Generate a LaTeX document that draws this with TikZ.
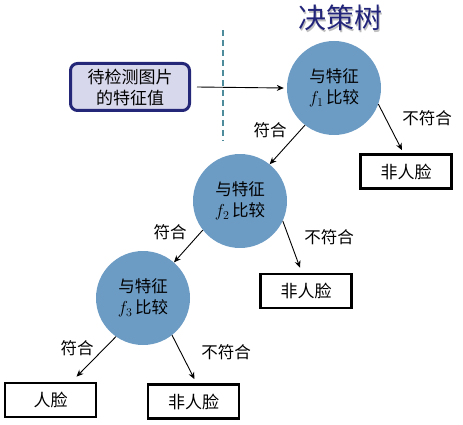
\documentclass[tikz,border=0pt]{standalone}
\usepackage{fontspec}
\newfontfamily\cjk{Noto Sans CJK SC}
\usetikzlibrary{arrows.meta}
\definecolor{circblue}{RGB}{108,155,196}
\definecolor{navy}{RGB}{36,38,120}
\definecolor{lav}{RGB}{216,216,236}
\definecolor{teal}{RGB}{78,140,156}
\definecolor{titleblue}{RGB}{34,36,122}
\begin{document}
\begin{tikzpicture}[x=1pt,y=-1pt,
  dec/.style={circle, fill=circblue, minimum size=94pt, inner sep=0pt, align=center,
    font=\cjk\fontsize{16.5}{21}\selectfont},
  leaf/.style={draw, line width=2.6pt, minimum width=91pt, minimum height=34pt, inner sep=0pt,
    font=\cjk\fontsize{17}{18}\selectfont},
  lbl/.style={font=\cjk\fontsize{16.5}{18}\selectfont, inner sep=0pt},
  arr/.style={-{Stealth[length=7pt,width=6pt]}, line width=0.9pt}]
\useasboundingbox (0,0) rectangle (463,425);
% title
\node[font=\cjk\fontsize{28}{30}\selectfont, text=black!25, inner sep=0pt] at (341.5,19.5) {决策树};
\node[font=\cjk\fontsize{28}{30}\selectfont, text=titleblue, inner sep=0pt] (title) at (340,18) {决策树};
% dashed line
\coordinate (dtop) at (223,30);
\coordinate (dbot) at (223,141);
\draw[teal, line width=2.6pt, dash pattern=on 6pt off 4pt] (dtop) -- (dbot);
% input
\node[draw=navy, line width=3pt, fill=lav, rounded corners=7pt, minimum width=119pt, minimum height=47pt,
  inner sep=0pt, align=center, font=\cjk\fontsize{17}{21}\selectfont] (in) at (130,87) {待检测图片\\的特征值};
% decision nodes
\node[dec] (c1) at (334,88) {与特征\\$f_1$\,比较};
\node[dec] (c2) at (240,201) {与特征\\$f_2$\,比较};
\node[dec] (c3) at (143,298) {与特征\\$f_3$\,比较};
% leaves
\node[leaf] (b1) at (406,171.5) {非人脸};
\node[leaf] (b2) at (306,291) {非人脸};
\node[leaf] (b3) at (50.5,400) {人脸};
\node[leaf] (b4) at (193.5,401.5) {非人脸};
% arrows
\draw[arr] ([xshift=6pt]in.east) -- ([xshift=-3pt]c1.west);
\draw[arr] (c1.232) -- (c2.51);
\draw[arr] (c1.-20) -- ([xshift=-4pt,yshift=3pt]b1.north);
\draw[arr] (c2.-25) -- ([xshift=-6pt,yshift=5pt]b2.north);
\draw[arr] (c2.218) -- (c3.49);
\draw[arr] (c3.235) -- ([xshift=26pt,yshift=5pt]b3.north);
\draw[arr] (c3.-52) -- ([xshift=1pt,yshift=4pt]b4.north);
% labels
\node[lbl] (l1) at (270,130) {符合};
\node[lbl] (l2) at (427,118) {不符合};
\node[lbl] (l3) at (170,232) {符合};
\node[lbl] (l4) at (329,237) {不符合};
\node[lbl] (l5) at (77,348) {符合};
\node[lbl] (l6) at (226,352) {不符合};
\end{tikzpicture}
\end{document}
